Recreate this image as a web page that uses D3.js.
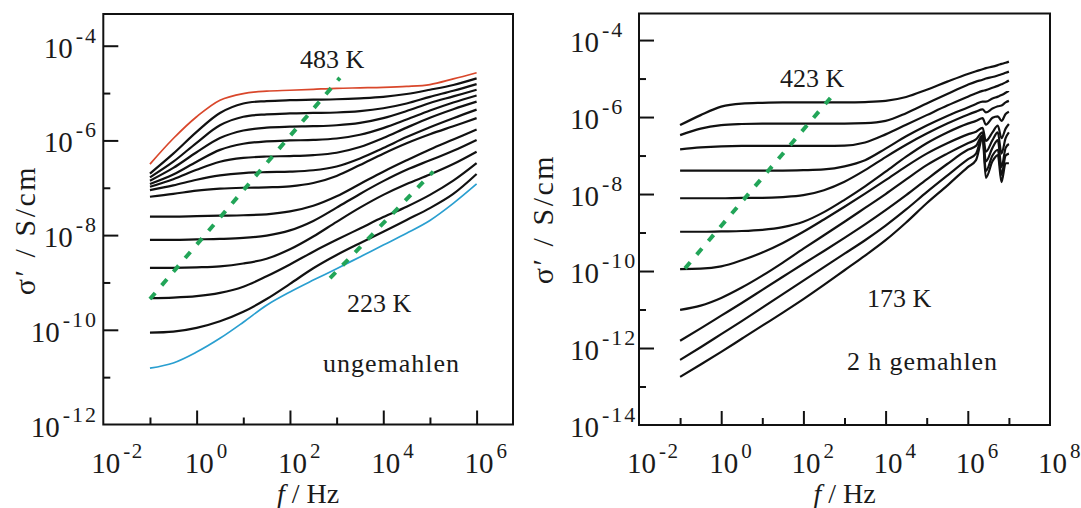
<!DOCTYPE html>
<html><head><meta charset="utf-8">
<script src="https://cdn.jsdelivr.net/npm/d3@7"></script>
<style>body{margin:0;background:#fff}svg{display:block}</style>
</head><body>
<svg id="c" width="1081" height="508" font-family="Liberation Serif" fill="#1a1a1a"></svg>
<script>
// ---------- data (log10 values) ----------
// left panel: ungemahlen, 483 K (red) ... 223 K (blue)
const freqLeft = [-1,-0.5,0,0.5,1,1.5,2,2.5,3,3.5,4,4.5,5,5.5,6];
const left483K = [-6.50,-5.96,-5.50,-5.15,-5.01,-4.96,-4.94,-4.92,-4.90,-4.89,-4.88,-4.86,-4.82,-4.70,-4.57];
const leftMid = [
  [-6.70,-6.28,-5.82,-5.42,-5.22,-5.17,-5.15,-5.14,-5.13,-5.11,-5.08,-5.02,-4.93,-4.83,-4.69],
  [-6.78,-6.45,-6.05,-5.68,-5.50,-5.45,-5.43,-5.42,-5.41,-5.38,-5.32,-5.22,-5.08,-4.95,-4.81],
  [-6.85,-6.58,-6.25,-5.95,-5.79,-5.73,-5.71,-5.70,-5.68,-5.63,-5.53,-5.38,-5.21,-5.07,-4.93],
  [-6.92,-6.72,-6.45,-6.20,-6.07,-6.02,-6.00,-5.99,-5.96,-5.88,-5.74,-5.56,-5.37,-5.20,-5.05],
  [-6.98,-6.82,-6.62,-6.45,-6.37,-6.34,-6.33,-6.31,-6.26,-6.14,-5.95,-5.73,-5.52,-5.34,-5.18],
  [-7.05,-6.95,-6.83,-6.74,-6.69,-6.67,-6.66,-6.63,-6.55,-6.38,-6.16,-5.93,-5.72,-5.53,-5.35],
  [-7.19,-7.13,-7.06,-7.02,-7.00,-6.99,-6.97,-6.90,-6.75,-6.52,-6.28,-6.06,-5.87,-5.70,-5.53],
  [-7.61,-7.61,-7.60,-7.59,-7.58,-7.56,-7.50,-7.38,-7.18,-6.92,-6.66,-6.42,-6.19,-5.98,-5.77],
  [-8.10,-8.10,-8.09,-8.08,-8.06,-8.01,-7.90,-7.70,-7.42,-7.13,-6.86,-6.62,-6.42,-6.22,-5.99],
  [-8.69,-8.69,-8.68,-8.66,-8.60,-8.50,-8.30,-8.03,-7.72,-7.42,-7.15,-6.92,-6.72,-6.50,-6.24],
  [-9.33,-9.32,-9.29,-9.22,-9.09,-8.87,-8.62,-8.35,-8.10,-7.86,-7.62,-7.40,-7.15,-6.85,-6.48],
  [-10.06,-10.04,-9.96,-9.82,-9.62,-9.35,-9.03,-8.70,-8.42,-8.17,-7.93,-7.68,-7.43,-7.13,-6.71]
];
const left223K = [-10.81,-10.70,-10.47,-10.18,-9.84,-9.48,-9.20,-8.95,-8.71,-8.46,-8.21,-7.96,-7.69,-7.33,-6.92];
const leftGuide1 = {f:[-1,3.07], s:[-9.35,-4.68]};
const leftGuide2 = {f:[2.86,5.07], s:[-8.91,-6.66]};

// right panel: 2 h gemahlen, 423 K ... 173 K
const freqRight = [-1,-0.5,0,0.5,1,1.5,2,2.5,3,3.5,4,4.5,5,5.5,6,6.2,6.36,6.44,6.6,6.73,6.82,6.92,7.0];
const rightCurves = [
  [-6.21,-5.95,-5.73,-5.65,-5.63,-5.62,-5.62,-5.62,-5.62,-5.61,-5.58,-5.48,-5.29,-5.08,-4.88,-4.81,-4.76,-4.73,-4.69,-4.65,-4.62,-4.59,-4.56],
  [-6.47,-6.30,-6.21,-6.18,-6.17,-6.17,-6.17,-6.17,-6.17,-6.16,-6.10,-5.90,-5.65,-5.40,-5.16,-5.08,-5.03,-5.00,-4.96,-4.92,-4.89,-4.85,-4.82],
  [-6.84,-6.79,-6.76,-6.75,-6.75,-6.75,-6.75,-6.75,-6.74,-6.66,-6.45,-6.20,-5.95,-5.70,-5.47,-5.38,-5.32,-5.30,-5.24,-5.19,-5.15,-5.10,-5.05],
  [-7.39,-7.39,-7.39,-7.39,-7.39,-7.39,-7.38,-7.36,-7.28,-7.12,-6.82,-6.50,-6.22,-5.97,-5.75,-5.66,-5.60,-5.60,-5.52,-5.47,-5.43,-5.37,-5.32],
  [-8.11,-8.11,-8.11,-8.10,-8.10,-8.08,-8.03,-7.90,-7.68,-7.38,-7.04,-6.72,-6.43,-6.17,-5.94,-5.86,-5.80,-5.88,-5.78,-5.72,-5.70,-5.62,-5.58],
  [-8.98,-8.98,-8.97,-8.96,-8.93,-8.86,-8.72,-8.47,-8.15,-7.80,-7.42,-7.03,-6.68,-6.40,-6.17,-6.10,-6.03,-6.20,-6.02,-5.98,-6.10,-5.92,-5.86],
  [-9.95,-9.94,-9.88,-9.72,-9.52,-9.27,-8.98,-8.66,-8.33,-7.99,-7.64,-7.28,-6.95,-6.68,-6.45,-6.38,-6.28,-6.62,-6.40,-6.22,-6.55,-6.30,-6.18],
  [-11.01,-10.90,-10.70,-10.43,-10.12,-9.78,-9.42,-9.07,-8.72,-8.36,-8.00,-7.62,-7.25,-6.95,-6.68,-6.58,-6.40,-6.90,-6.60,-6.40,-6.95,-6.55,-6.40],
  [-11.81,-11.49,-11.16,-10.83,-10.49,-10.15,-9.81,-9.48,-9.14,-8.79,-8.42,-8.03,-7.62,-7.22,-6.85,-6.75,-6.47,-7.15,-6.80,-6.60,-7.30,-6.80,-6.70],
  [-12.31,-11.98,-11.64,-11.30,-10.95,-10.60,-10.25,-9.90,-9.55,-9.20,-8.82,-8.40,-7.95,-7.52,-7.10,-6.95,-6.50,-7.40,-7.00,-6.85,-7.50,-7.00,-6.95],
  [-12.75,-12.43,-12.10,-11.76,-11.42,-11.08,-10.73,-10.36,-9.98,-9.60,-9.20,-8.74,-8.24,-7.78,-7.30,-7.12,-6.55,-7.58,-7.15,-6.99,-7.69,-7.20,-7.20]
];
const rightGuide = {f:[-0.88,2.70], s:[-9.93,-5.45]};

// tick exponents
const xLabelsLeft = [-2,0,2,4,6];
const yLabelsLeft = [-12,-10,-8,-6,-4];
const xLabelsRight = [-2,0,2,4,6,8];
const yLabelsRight = [-14,-12,-10,-8,-6,-4];

// ---------- drawing ----------
const svg = d3.select("#c");
const INK = "#111";
const FONT = "Liberation Serif";

function drawPanel(p){
  const x = d3.scaleLog().domain([1e-2, 10**p.xMaxExp]).range([p.x0, p.x1]);
  const y = d3.scaleLog().domain([10**p.yMinExp, 10**p.yMaxExp]).range([p.y1, p.y0]);
  const g = svg.append("g");
  const line = d3.line().x(d=>x(d[0])).y(d=>y(d[1])).curve(p.curve);

  p.series.forEach(s=>{
    g.append("path")
      .attr("d", line(p.freq.map((f,i)=>[10**f, 10**s.v[i]])))
      .attr("fill","none").attr("stroke", s.color).attr("stroke-width", s.w)
      .attr("stroke-linejoin","round");
  });
  p.guides.forEach(gd=>{
    g.append("line")
      .attr("x1", x(10**gd.f[0])).attr("y1", y(10**gd.s[0]))
      .attr("x2", x(10**gd.f[1])).attr("y2", y(10**gd.s[1]))
      .attr("stroke","#22a558").attr("stroke-width",4).attr("stroke-dasharray","8,10");
  });

  g.append("rect").attr("x",p.x0).attr("y",p.y0).attr("width",p.x1-p.x0).attr("height",p.y1-p.y0)
    .attr("fill","none").attr("stroke",INK).attr("stroke-width",2);

  const styleAxis = sel => { sel.select(".domain").remove(); sel.selectAll("line").attr("stroke",INK).attr("stroke-width",2); };
  g.append("g").attr("transform",`translate(0,${p.y1})`)
    .call(d3.axisBottom(x).tickValues(p.xMajor.map(e=>10**e)).tickSize(-14).tickSizeOuter(0).tickFormat(""))
    .call(styleAxis);
  g.append("g").attr("transform",`translate(0,${p.y1})`)
    .call(d3.axisBottom(x).tickValues(p.xMinor.map(e=>10**e)).tickSize(-7).tickSizeOuter(0).tickFormat(""))
    .call(styleAxis);
  g.append("g").attr("transform",`translate(${p.x0},0)`)
    .call(d3.axisLeft(y).tickValues(p.yMajor.map(e=>10**e)).tickSize(-15).tickSizeOuter(0).tickFormat(""))
    .call(styleAxis);
  g.append("g").attr("transform",`translate(${p.x0},0)`)
    .call(d3.axisLeft(y).tickValues(p.yMinor.map(e=>10**e)).tickSize(-7).tickSizeOuter(0).tickFormat(""))
    .call(styleAxis);

  const T = (sel)=>sel.attr("font-family",FONT).attr("fill","#1a1a1a");

  p.xLabels.forEach(e=>{
    const t = g.append("text").call(T).attr("x", x(10**e)-12).attr("y", 473).attr("font-size",29);
    t.append("tspan").text("10");
    t.append("tspan").attr("dx",3).attr("dy",-15).attr("font-size",21).attr("letter-spacing",1.5).text(String(e));
  });
  p.yLabels.forEach(e=>{
    const t = g.append("text").call(T).attr("x", p.yLabX).attr("y", y(10**e)+12).attr("font-size",29)
      .attr("text-anchor", p.yAnchor);
    t.append("tspan").text("10");
    t.append("tspan").attr("dx",3).attr("dy",-15).attr("font-size",22).attr("letter-spacing",2).text(String(e));
  });

  const xt = g.append("text").call(T).attr("x",(p.x0+p.x1)/2).attr("y",503).attr("font-size",28).attr("text-anchor","middle");
  xt.append("tspan").attr("font-style","italic").text("f");
  xt.append("tspan").text(" / Hz");
  g.append("text").call(T).attr("transform",`translate(${p.yTitleX},${p.yTitleY}) rotate(-90)`)
    .attr("font-size",30).attr("letter-spacing",2.5).attr("text-anchor","middle").text("σ′ / S/cm");

  p.notes.forEach(n=>{
    g.append("text").call(T).attr("x",n.x).attr("y",n.y).attr("font-size",26).attr("letter-spacing",n.ls||0).text(n.t);
  });
}

drawPanel({
  x0:103.3, x1:513, y0:14, y1:424.5, xMaxExp:6.78, yMinExp:-12, yMaxExp:-3.33,
  freq: freqLeft, curve: d3.curveCatmullRom.alpha(0.5),
  series: [{v:left483K,color:"#d9472b",w:1.7}]
    .concat(leftMid.map(v=>({v,color:INK,w:2.2})))
    .concat([{v:left223K,color:"#2a9fd0",w:1.7}]),
  guides:[leftGuide1,leftGuide2],
  xMajor:[0,2,4,6], xMinor:[-1,1,3,5],
  yMajor:[-10,-8,-6,-4], yMinor:[-11,-9,-7,-5],
  xLabels:xLabelsLeft, yLabels:yLabelsLeft, yLabX:98, yAnchor:"end",
  yTitleX:35, yTitleY:230,
  notes:[{t:"483 K",x:300,y:68},{t:"223 K",x:347,y:312},{t:"ungemahlen",x:323,y:372,ls:1}]
});
drawPanel({
  x0:639, x1:1050, y0:13.5, y1:425, xMaxExp:8, yMinExp:-14, yMaxExp:-3.31,
  freq: freqRight, curve: d3.curveMonotoneX,
  series: rightCurves.map(v=>({v,color:INK,w:2.2})),
  guides:[rightGuide],
  xMajor:[0,2,4,6], xMinor:[-1,1,3,5,7],
  yMajor:[-12,-10,-8,-6,-4], yMinor:[-13,-11,-9,-7,-5],
  xLabels:xLabelsRight, yLabels:yLabelsRight, yLabX:570, yAnchor:"start",
  yTitleX:553, yTitleY:219,
  notes:[{t:"423 K",x:780,y:87},{t:"173 K",x:867,y:307},{t:"2 h gemahlen",x:847,y:370,ls:0.9}]
});
</script>
</body></html>
